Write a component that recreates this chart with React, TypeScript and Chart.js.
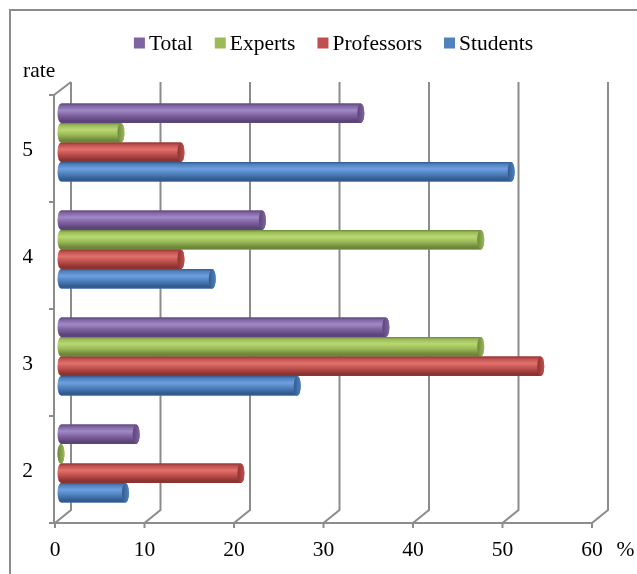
import { useEffect, useRef } from "react";
import { Chart, registerables } from "chart.js";

Chart.register(...registerables);

// Rating categories, top to bottom
const rates = ["5", "4", "3", "2"];

// Share of answers per group, percent
const total = [33.5, 22.5, 36.3, 8.4];
const experts = [6.7, 46.9, 46.9, 0];
const professors = [13.4, 13.4, 53.6, 20.1];
const students = [50.3, 16.9, 26.4, 7.2];

// Value axis range
const xMin = 0;
const xMax = 60;
const xStep = 10;

const seriesNames = ["Total", "Experts", "Professors", "Students"];
const seriesValues = [total, experts, professors, students];

const FONT = "'Liberation Serif', 'Times New Roman', serif";
const FONT_SIZE = 21.5;
const GRID = "#8c8c8c";

// Cylinder shading per series: flat, highlight, shadow
const shades = [
  { base: "#8064A2", light: "#a08ac6", dark: "#5c4579" },
  { base: "#9BBB59", light: "#b9d872", dark: "#6c873a" },
  { base: "#C0504D", light: "#e0726e", dark: "#8c3432" },
  { base: "#4F81BD", light: "#6f9fe0", dark: "#325b8f" },
];

// Depth offsets of the front edge and back wall relative to the bar plane
const FRONT_DX = -6;
const FRONT_DY = 6;
const BACK_DX = 10;
const BACK_DY = -7;

const framePlugin = {
  id: "frame3d",
  beforeDraw(chart: any) {
    const { ctx } = chart;
    ctx.save();
    ctx.strokeStyle = GRID;
    ctx.lineWidth = 2;
    ctx.beginPath();
    ctx.moveTo(10, chart.height);
    ctx.lineTo(10, 10);
    ctx.lineTo(chart.width, 10);
    ctx.stroke();
    ctx.restore();
  },
  beforeDatasetsDraw(chart: any) {
    const { ctx, chartArea } = chart;
    const xs = chart.scales.x;
    const ys = chart.scales.y;
    const ticks = xs.ticks.map((t: any) => t.value);
    const top = chartArea.top;
    const bottom = chartArea.bottom;
    ctx.save();
    ctx.strokeStyle = GRID;
    ctx.lineWidth = 2;
    ctx.lineCap = "butt";

    // back wall verticals and floor diagonals
    ticks.forEach((v: number) => {
      const px = xs.getPixelForValue(v);
      const xb = px + BACK_DX;
      const xf = px + FRONT_DX;
      ctx.beginPath();
      ctx.moveTo(xb, top + BACK_DY);
      ctx.lineTo(xb, bottom + BACK_DY);
      ctx.lineTo(xf, bottom + FRONT_DY);
      ctx.lineTo(xf, bottom + FRONT_DY + 5);
      ctx.stroke();
    });

    const x0f = xs.getPixelForValue(xMin) + FRONT_DX - 1;
    const x0b = xs.getPixelForValue(xMin) + BACK_DX;
    const xEnd = xs.getPixelForValue(xMax) + FRONT_DX;

    // front floor edge
    ctx.beginPath();
    ctx.moveTo(x0f - 5, bottom + FRONT_DY);
    ctx.lineTo(xEnd, bottom + FRONT_DY);
    ctx.stroke();

    // left wall front edge and top diagonal
    ctx.beginPath();
    ctx.moveTo(x0b, top + BACK_DY);
    ctx.lineTo(x0f, top + FRONT_DY);
    ctx.lineTo(x0f, bottom + FRONT_DY);
    ctx.stroke();

    // category boundary ticks
    const n = rates.length;
    const band = (bottom - top) / n;
    for (let i = 0; i <= n; i++) {
      const y = top + i * band + FRONT_DY;
      ctx.beginPath();
      ctx.moveTo(x0f - 5, y);
      ctx.lineTo(x0f, y);
      ctx.stroke();
    }
    ctx.restore();
  },
  afterDatasetsDraw(chart: any) {
    const { ctx } = chart;
    ctx.save();
    chart.data.datasets.forEach((_ds: any, i: number) => {
      const meta = chart.getDatasetMeta(i);
      const s = shades[i];
      meta.data.forEach((bar: any) => {
        const { x, y, base, height } = bar.getProps(["x", "y", "base", "height"], true);
        const h = height;
        const t = y - h / 2;
        const rx = 3.5;
        const ry = h / 2;
        const g = ctx.createLinearGradient(0, t, 0, t + h);
        g.addColorStop(0, s.dark);
        g.addColorStop(0.12, s.base);
        g.addColorStop(0.35, s.light);
        g.addColorStop(0.6, s.base);
        g.addColorStop(0.88, s.dark);
        g.addColorStop(1, s.dark);
        ctx.fillStyle = g;
        ctx.beginPath();
        ctx.ellipse(base, y, rx, ry, 0, Math.PI / 2, Math.PI * 1.5);
        ctx.lineTo(x, t);
        ctx.ellipse(x, y, rx, ry, 0, -Math.PI / 2, Math.PI / 2);
        ctx.closePath();
        ctx.fill();
        // end cap
        const cg = ctx.createLinearGradient(x - rx, 0, x + rx, 0);
        cg.addColorStop(0, s.dark);
        cg.addColorStop(1, s.base);
        ctx.fillStyle = cg;
        ctx.beginPath();
        ctx.ellipse(x, y, rx, ry, 0, 0, Math.PI * 2);
        ctx.fill();
      });
    });
    ctx.restore();
  },
  afterDraw(chart: any) {
    const { ctx } = chart;
    const xs = chart.scales.x;
    ctx.save();
    ctx.font = `${FONT_SIZE}px ${FONT}`;
    ctx.fillStyle = "#000";

    // legend
    const box = 11;
    const gap = 4;
    const itemGap = 22;
    const widths = chart.data.datasets.map((d: any) => ctx.measureText(d.label).width);
    const totalW = widths.reduce((a: number, w: number) => a + box + gap + w, 0) + itemGap * (widths.length - 1);
    let lx = 333.5 - totalW / 2;
    const ly = 43;
    ctx.textBaseline = "middle";
    ctx.textAlign = "left";
    chart.data.datasets.forEach((d: any, i: number) => {
      ctx.fillStyle = shades[i].base;
      ctx.fillRect(lx, ly - box / 2, box, box);
      ctx.fillStyle = "#000";
      ctx.fillText(d.label, lx + box + gap, ly + 1);
      lx += box + gap + widths[i] + itemGap;
    });

    // unit label after the value axis
    ctx.textAlign = "center";
    ctx.fillText("%", 625.5, xs.top + 20.6 + FONT_SIZE * 0.6);
    ctx.restore();
  },
};

export default function App() {
  const ref = useRef<HTMLCanvasElement | null>(null);

  useEffect(() => {
    if (!ref.current) return;
    const chart = new Chart(ref.current, {
      type: "bar",
      data: {
        labels: rates,
        datasets: seriesNames.map((name, i) => ({
          label: name,
          data: seriesValues[i],
          backgroundColor: shades[i].base,
          borderWidth: 0,
          barPercentage: 1,
          categoryPercentage: 0.73,
        })),
      },
      options: {
        indexAxis: "y",
        responsive: false,
        animation: false,
        devicePixelRatio: 1,
        layout: { padding: { top: 58.8, left: 23, right: 39, bottom: 0 } },
        plugins: {
          legend: { display: false },
          tooltip: { enabled: false },
          title: {
            display: true,
            text: "rate",
            align: "start",
            position: "top",
            color: "#000",
            font: { family: FONT, size: FONT_SIZE, weight: "normal" },
            padding: { top: 0, bottom: 4.4 },
          },
        },
        scales: {
          x: {
            type: "linear",
            min: xMin,
            max: xMax,
            grid: { display: false, drawTicks: false },
            border: { display: false },
            ticks: {
              stepSize: xStep,
              color: "#000",
              padding: 20.6,
              labelOffset: FRONT_DX,
              font: { family: FONT, size: FONT_SIZE },
            },
            afterFit: (s: any) => {
              s.height = 57;
            },
          },
          y: {
            type: "category",
            grid: { display: false, drawTicks: false },
            border: { display: false },
            ticks: {
              color: "#000",
              padding: 28,
              labelOffset: 8.2,
              font: { family: FONT, size: FONT_SIZE },
            },
            afterFit: (s: any) => {
              s.width = 38;
            },
          },
        },
      },
      plugins: [framePlugin],
    });
    return () => chart.destroy();
  }, []);

  return (
    <div style={{ position: "fixed", left: 0, top: 0, width: 637, height: 574, background: "#fff" }}>
      <canvas ref={ref} width={637} height={574} style={{ display: "block" }} />
    </div>
  );
}
